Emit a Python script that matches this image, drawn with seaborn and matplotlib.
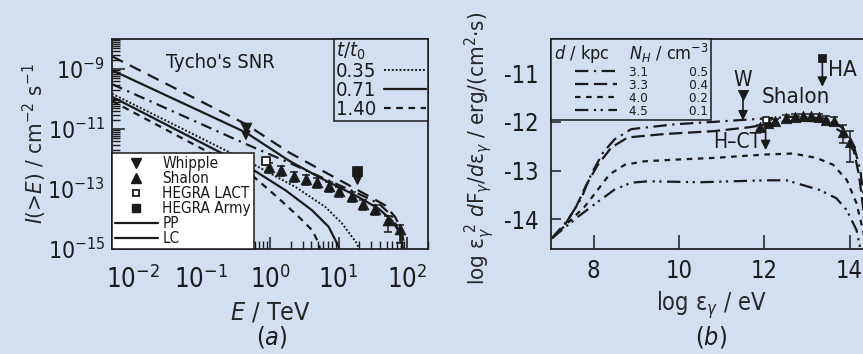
import numpy as np
import matplotlib
matplotlib.use('Agg')
import matplotlib.pyplot as plt
import seaborn as sns
from matplotlib.lines import Line2D
from matplotlib.ticker import FixedLocator, LogLocator, NullFormatter
from matplotlib import font_manager as fm

# ---------------- panel (a): integral spectrum of Tycho's SNR ----------------
# model curves (E in TeV, I(>E) in cm^-2 s^-1)
a_upper_dash_E = [0.005, 0.445, 1.88, 5.73, 17.5, 47.5, 66.4, 82.6, 92.7]
a_upper_dash_I = [2.65e-9, 1.45e-11, 1.67e-12, 4.13e-13, 1.02e-13, 2.86e-14, 1.17e-14, 4.26e-15, 9e-16]
a_upper_solid_E = [0.005, 0.445, 1.88, 5.73, 17.5, 38.0, 59.2, 78.3, 87.5]
a_upper_solid_I = [9.12e-10, 7.66e-12, 8.85e-13, 2.19e-13, 6.14e-14, 2.23e-14, 9.12e-15, 3.31e-15, 9e-16]
a_upper_dashdot_E = [0.005, 0.445, 1.88, 5.68, 17.6, 38.0, 58.6, 76.6, 84.7]
a_upper_dashdot_I = [3.14e-10, 3.16e-12, 7.60e-13, 2.42e-13, 7.71e-14, 3.33e-14, 1.34e-14, 3.66e-15, 9e-16]
a_lower_dotted_E = [0.005, 0.548, 2.36, 6.41, 11.2, 18.4, 20.1]
a_lower_dotted_I = [1.50e-10, 7.05e-13, 1.16e-13, 2.52e-14, 7.10e-15, 1.55e-15, 9e-16]
a_lower_solid_E = [0.005, 0.497, 1.69, 4.10, 7.16, 10.0, 10.3]
a_lower_solid_I = [1.19e-10, 5.31e-13, 8.99e-14, 1.95e-14, 5.47e-15, 1.19e-15, 9e-16]
a_lower_shortdash_E = [0.005, 0.553, 1.35, 2.63, 4.10, 5.13, 5.40]
a_lower_shortdash_I = [8.59e-11, 2.82e-13, 4.78e-14, 1.17e-14, 4.26e-15, 1.55e-15, 9e-16]

# observations
shalon_a_E = [0.955, 1.43, 2.23, 3.29, 4.85, 7.16, 10.2, 15.5, 22.9, 33.9, 52.5, 77.6]
shalon_a_I = [5.4e-13, 4.2e-13, 2.8e-13, 2.2e-13, 1.7e-13, 1.3e-13, 8.9e-14, 5.8e-14,
              3.1e-14, 2.2e-14, 9.1e-15, 4.6e-15]
shalon_a_err_lo_dex = [0.2, 0.2, 0.2, 0.2, 0.2, 0.2, 0.2, 0.2, 0.2, 0.2, 0.4, 0.45]
shalon_a_err_hi_dex = [0.13, 0.13, 0.13, 0.13, 0.13, 0.13, 0.13, 0.13, 0.13, 0.13, 0.15, 0.15]
whipple_E, whipple_I, whipple_I_arrow = 0.445, 1.12e-11, 4.1e-12
lact_E, lact_I = 0.875, 8.9e-13
army_E, army_I, army_I_arrow = 18.8, 4.1e-13, 1.3e-13

t_labels = ['0.35', '0.71', '1.40']
obs_labels = ['Whipple', 'Shalon', 'HEGRA LACT', 'HEGRA Army', 'PP', 'LC']

# ---------------- panel (b): spectral energy distribution ----------------
b_31_x = [7.02, 7.40, 7.71, 7.94, 8.22, 8.49, 8.88, 9.90, 10.83, 11.5, 12.2, 12.8, 13.4, 13.8, 14.1, 14.25, 14.35, 14.42]
b_31_y = [-14.39, -14.01, -13.57, -13.08, -12.63, -12.36, -12.15, -12.05, -12.0, -11.96, -11.92, -11.89,
          -11.93, -12.1, -12.5, -13.0, -13.7, -14.6]
b_33_x = [7.02, 7.32, 7.59, 7.83, 8.10, 8.41, 8.80, 9.66, 10.83, 11.66, 12.2, 12.8, 13.4, 13.8, 14.1, 14.22, 14.32, 14.38]
b_33_y = [-14.39, -14.12, -13.74, -13.29, -12.88, -12.53, -12.32, -12.25, -12.19, -12.11, -12.03, -11.97,
          -12.0, -12.2, -12.6, -13.1, -13.8, -14.6]
b_40_x = [7.02, 7.79, 8.10, 8.37, 8.73, 9.19, 10.05, 10.83, 12.05, 12.67, 13.22, 13.61, 13.93, 14.16, 14.31, 14.4]
b_40_y = [-14.39, -13.74, -13.39, -13.08, -12.88, -12.81, -12.77, -12.74, -12.67, -12.65, -12.74, -12.88,
          -13.19, -13.67, -14.22, -14.6]
b_45_x = [7.02, 7.63, 8.10, 8.49, 8.88, 9.27, 10.49, 12.05, 12.52, 13.3, 13.69, 13.93, 14.16, 14.25]
b_45_y = [-14.39, -13.95, -13.64, -13.39, -13.25, -13.22, -13.24, -13.20, -13.20, -13.40, -13.57, -13.81,
          -14.22, -14.6]
d_kpc = ['3.1', '3.3', '4.0', '4.5']
n_h = ['0.5', '0.4', '0.2', '0.1']

shalon_b_x = [11.91, 12.08, 12.26, 12.50, 12.71, 12.90, 13.10, 13.27, 13.45, 13.64, 13.84, 14.00]
shalon_b_y = [-12.11, -12.02, -11.99, -11.92, -11.90, -11.89, -11.89, -11.90, -11.96, -11.99, -12.20, -12.41]
shalon_b_err_lo = [0.06, 0.06, 0.06, 0.06, 0.06, 0.06, 0.06, 0.06, 0.08, 0.08, 0.24, 0.41]
shalon_b_err_hi = [0.05, 0.05, 0.05, 0.06, 0.06, 0.06, 0.06, 0.06, 0.07, 0.08, 0.13, 0.23]
w_x, w_y, w_y_arrow = 11.5, -11.45, -11.97
ha_x, ha_y, ha_y_arrow = 13.36, -10.70, -11.28
hct_x, hct_y, hct_y_arrow = 12.03, -11.96, -12.58

# ---------------- style ----------------
bg = '#d3dff0'
sns.set_theme(style='ticks')
ttf = fm.fontManager.ttflist
names = {f.name for f in ttf}
if 'Liberation Sans Narrow' in names:
    fam, pat, ipat = 'Liberation Sans Narrow', 'Liberation Sans Narrow', 'Liberation Sans Narrow:style=italic'
elif any(f.name == 'DejaVu Sans' and 'condensed' in str(f.stretch) for f in ttf):
    fam, pat, ipat = ('DejaVu Sans', 'DejaVu Sans:stretch=condensed',
                      'DejaVu Sans:style=italic:stretch=condensed')
    plt.rcParams['font.stretch'] = 'condensed'
else:
    fam, pat, ipat = 'Liberation Sans', 'Liberation Sans', 'Liberation Sans:style=italic'
plt.rcParams['font.family'] = [fam, 'DejaVu Sans']
plt.rcParams['mathtext.fontset'] = 'custom'
plt.rcParams['mathtext.rm'] = pat
plt.rcParams['mathtext.it'] = ipat
plt.rcParams['mathtext.bf'] = pat
plt.rcParams['axes.linewidth'] = 1.3
plt.rcParams['text.color'] = '#1a1a1a'

fig = plt.figure(figsize=(8.63, 3.54), dpi=100, facecolor=bg)
W, H = 863.0, 354.0
axa = fig.add_axes([112 / W, 105 / H, 316 / W, 210 / H], facecolor=bg)
axb = fig.add_axes([551 / W, 105 / H, 320 / W, 210 / H], facecolor=bg)

LD = (0, (5.5, 3.5))
DD = (0, (5, 2.5, 1, 2.5))
DOT = (0, (1, 1))
SD = (0, (3, 2.5))

def curve(ax, x, y, ls, lw=1.6):
    sns.lineplot(x=x, y=y, ax=ax, color='k', linestyle=ls, lw=lw,
                 sort=False, estimator=None, legend=False)

# ---- panel a ----
axa.set_xscale('log')
axa.set_yscale('log')
curve(axa, a_upper_dash_E, a_upper_dash_I, LD)
curve(axa, a_upper_solid_E, a_upper_solid_I, '-')
curve(axa, a_upper_dashdot_E, a_upper_dashdot_I, DD)
curve(axa, a_lower_dotted_E, a_lower_dotted_I, DOT, 1.4)
curve(axa, a_lower_solid_E, a_lower_solid_I, '-')
curve(axa, a_lower_shortdash_E, a_lower_shortdash_I, SD)

sI = np.array(shalon_a_I)
lo = sI * (1 - 10 ** (-np.array(shalon_a_err_lo_dex)))
hi = sI * (10 ** np.array(shalon_a_err_hi_dex) - 1)
axa.errorbar(shalon_a_E, shalon_a_I, yerr=[lo, hi], fmt='none', ecolor='k', elinewidth=1.1,
             capsize=3, capthick=1.1, zorder=4)
sns.scatterplot(x=shalon_a_E, y=shalon_a_I, ax=axa, marker='^', s=60, color='k',
                edgecolor='k', zorder=5, legend=False)
sns.scatterplot(x=[whipple_E], y=[whipple_I], ax=axa, marker='v', s=60, color='k',
                edgecolor='k', zorder=5, legend=False)
sns.scatterplot(x=[lact_E], y=[lact_I], ax=axa, marker='s', s=30, color='white',
                edgecolor='k', linewidth=1.3, zorder=6, legend=False)
sns.scatterplot(x=[army_E], y=[army_I], ax=axa, marker='s', s=45, color='k',
                edgecolor='k', zorder=5, legend=False)
for x0, y0, y1 in [(whipple_E, whipple_I, whipple_I_arrow), (army_E, army_I, army_I_arrow)]:
    axa.annotate('', xy=(x0, y1), xytext=(x0, y0),
                 arrowprops=dict(arrowstyle='-|>', color='k', lw=1.2, mutation_scale=14,
                                 shrinkA=0, shrinkB=0), zorder=5)

axa.set_xlim(5e-3, 200)
axa.set_ylim(1e-15, 1e-8)
axa.xaxis.set_major_locator(FixedLocator([1e-2, 1e-1, 1, 10, 100]))
axa.xaxis.set_minor_locator(LogLocator(base=10, subs=np.arange(2, 10), numticks=30))
axa.yaxis.set_major_locator(FixedLocator([1e-15, 1e-13, 1e-11, 1e-9]))
axa.yaxis.set_minor_locator(LogLocator(base=10, subs=np.arange(1, 10), numticks=30))
axa.xaxis.set_minor_formatter(NullFormatter())
axa.yaxis.set_minor_formatter(NullFormatter())
axa.tick_params(which='both', direction='in', top=False, right=False, colors='k')
axa.tick_params(axis='x', which='major', length=9, width=1.1, labelsize=18.5, pad=12)
axa.tick_params(axis='x', which='minor', length=6, width=1.0)
axa.tick_params(axis='y', which='major', length=9, width=1.1, labelsize=16.5, pad=5)
axa.tick_params(axis='y', which='minor', length=6, width=1.0)
for sp in axa.spines.values():
    sp.set_color('#222222')

axa.set_xlabel(r'$E$ / TeV', fontsize=18)
axa.xaxis.set_label_coords(0.5, -0.245)
axa.set_ylabel(r'$I$(>$E$) / cm$^{-2}$ s$^{-1}$', fontsize=16)
axa.yaxis.set_label_coords(-0.2, 0.5)
axa.text(0.342, 0.89, "Tycho's SNR", transform=axa.transAxes, ha='center', va='center', fontsize=14.5)

t_handles = [Line2D([], [], color='k', ls=DOT, lw=1.4),
             Line2D([], [], color='k', ls='-', lw=1.6),
             Line2D([], [], color='k', ls=SD, lw=1.6)]
leg1 = axa.legend(t_handles, t_labels, title=r'$t/t_0$', loc='upper right', markerfirst=False,
                  fontsize=14.5, title_fontsize=14.5, frameon=True, fancybox=False, framealpha=1,
                  facecolor=bg, edgecolor='k', borderaxespad=0, borderpad=0.08, labelspacing=0.0,
                  handlelength=2.1, handletextpad=0.4, alignment='left')
leg1.get_frame().set_linewidth(1.1)
axa.add_artist(leg1)

obs_handles = [Line2D([], [], color='k', marker='v', ls='none', ms=7),
               Line2D([], [], color='k', marker='^', ls='none', ms=7),
               Line2D([], [], color='k', marker='s', mfc='white', mew=1.3, ls='none', ms=5),
               Line2D([], [], color='k', marker='s', ls='none', ms=6),
               Line2D([], [], color='k', ls='-', lw=1.6),
               Line2D([], [], color='k', ls='-', lw=1.6)]
leg2 = axa.legend(obs_handles, obs_labels, loc='lower left', fontsize=11, frameon=True,
                  fancybox=False, framealpha=1, facecolor='white', edgecolor='k',
                  borderaxespad=0, borderpad=0.2, labelspacing=0.0, handlelength=2.8,
                  handletextpad=0.3)
leg2.get_frame().set_linewidth(1.1)

# ---- panel b ----
curve(axb, b_31_x, b_31_y, (0, (6, 2.5, 1, 2.5)))
curve(axb, b_33_x, b_33_y, (0, (6, 2.5)))
curve(axb, b_40_x, b_40_y, (0, (2.5, 2.5)))
curve(axb, b_45_x, b_45_y, (0, (6, 2.5, 1, 2, 1, 2.5)))

axb.errorbar(shalon_b_x, shalon_b_y, yerr=[shalon_b_err_lo, shalon_b_err_hi], fmt='none',
             ecolor='k', elinewidth=1.1, capsize=3, capthick=1.1, zorder=4)
sns.scatterplot(x=shalon_b_x, y=shalon_b_y, ax=axb, marker='^', s=55, color='k',
                edgecolor='k', zorder=5, legend=False)
sns.scatterplot(x=[w_x], y=[w_y], ax=axb, marker='v', s=55, color='k', edgecolor='k',
                zorder=5, legend=False)
sns.scatterplot(x=[ha_x], y=[ha_y], ax=axb, marker='s', s=40, color='k', edgecolor='k',
                zorder=5, legend=False)
sns.scatterplot(x=[hct_x], y=[hct_y], ax=axb, marker='s', s=22, color='white', edgecolor='k',
                linewidth=1.2, zorder=6, legend=False)
for x0, y0, y1 in [(w_x, w_y, w_y_arrow), (ha_x, ha_y, ha_y_arrow), (hct_x, hct_y, hct_y_arrow)]:
    axb.annotate('', xy=(x0, y1), xytext=(x0, y0),
                 arrowprops=dict(arrowstyle='-|>', color='k', lw=1.2, mutation_scale=14,
                                 shrinkA=0, shrinkB=0), zorder=5)

axb.text(w_x, -11.14, 'W', ha='center', va='center', fontsize=15)
axb.text(13.5, -10.93, 'HA', ha='left', va='center', fontsize=16)
axb.text(12.74, -11.50, 'Shalon', ha='center', va='center', fontsize=16)
axb.text(11.36, -12.42, 'H–CT', ha='center', va='center', fontsize=15)

axb.set_xlim(7, 14.5)
axb.set_ylim(-14.61, -10.30)
axb.set_xticks([8, 10, 12, 14])
axb.set_yticks([-11, -12, -13, -14])
axb.set_yticklabels(['-11', '-12', '-13', '-14'])
axb.tick_params(which='both', direction='in', top=False, right=False, colors='k')
axb.tick_params(axis='x', length=10, width=1.1, labelsize=17, pad=7)
axb.tick_params(axis='y', length=7, width=1.1, labelsize=17, pad=9)
axb.spines['right'].set_visible(False)
for sp in axb.spines.values():
    sp.set_color('#222222')
axb.set_xlabel(r'log ε$_\gamma$ / eV', fontsize=17)
axb.xaxis.set_label_coords(0.5, -0.19)
axb.set_ylabel(r'log ε$_\gamma^{\ 2}$ $d$F$_\gamma$/$d$ε$_\gamma$ / erg/(cm$^2$·s)', fontsize=16)
axb.yaxis.set_label_coords(-0.17, 0.48)

b_handles = [Line2D([], [], color='k', ls=(0, (6, 2.5, 1, 2.5)), lw=1.6),
             Line2D([], [], color='k', ls=(0, (6, 2.5)), lw=1.6),
             Line2D([], [], color='k', ls=(0, (2.5, 2.5)), lw=1.6),
             Line2D([], [], color='k', ls=(0, (6, 2.5, 1, 2, 1, 2.5)), lw=1.6)]
b_labels = [f'{d}           {n}' for d, n in zip(d_kpc, n_h)]
leg3 = axb.legend(b_handles, b_labels, title=r'$d$ / kpc    $N_H$ / cm$^{-3}$', loc='upper left',
                  fontsize=9.5, title_fontsize=13, frameon=True, fancybox=False, framealpha=1,
                  facecolor=bg, edgecolor='k', borderaxespad=0, borderpad=0.2, labelspacing=0.0,
                  handlelength=3.2, handletextpad=0.9, alignment='right')
leg3.get_frame().set_linewidth(1.1)

fig.text(272 / W, 1 - 337 / H, r'($a$)', ha='center', va='center', fontsize=18)
fig.text(711 / W, 1 - 337 / H, r'($b$)', ha='center', va='center', fontsize=18)

fig.savefig('out.png', dpi=100, facecolor=bg)
